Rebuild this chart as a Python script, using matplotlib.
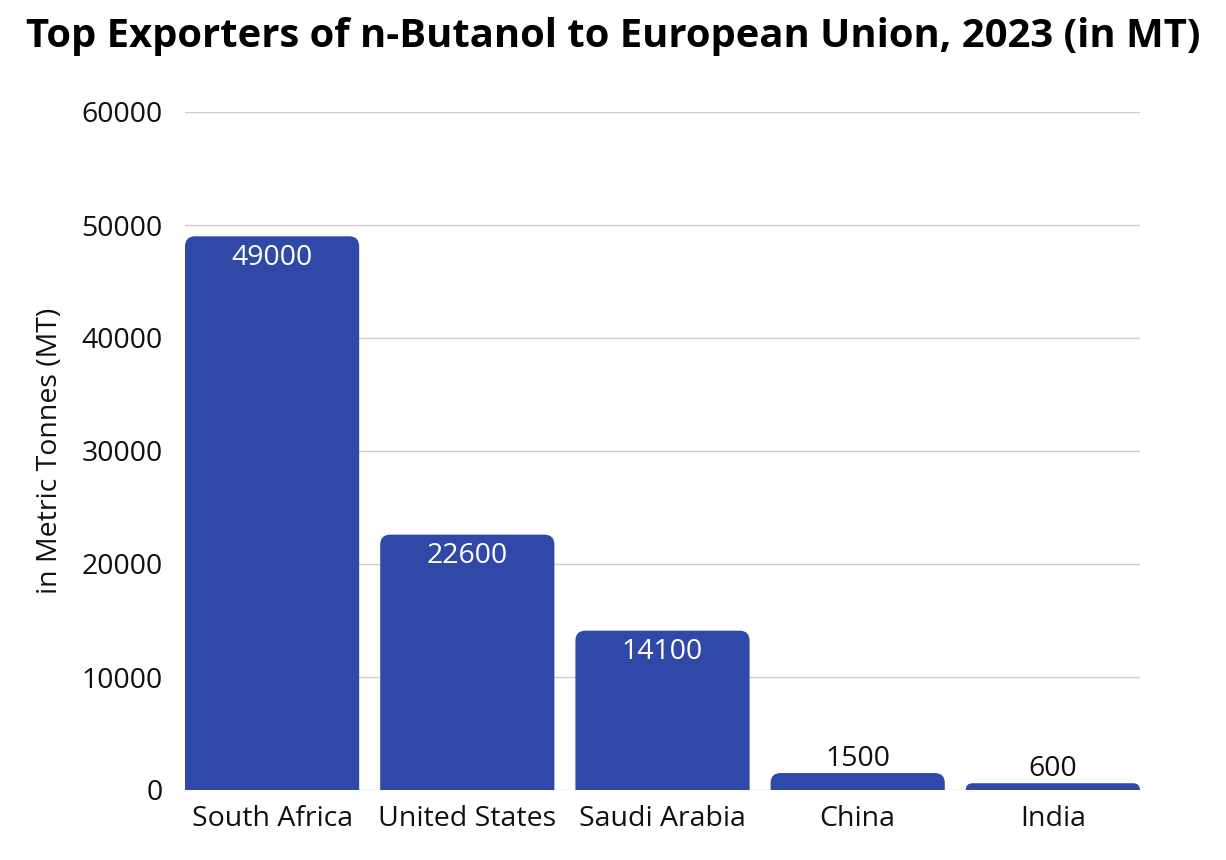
import matplotlib
matplotlib.use("Agg")
import matplotlib.pyplot as plt
from matplotlib.path import Path
from matplotlib.patches import PathPatch

countries = ["South Africa", "United States", "Saudi Arabia", "China", "India"]
values = [49000, 22600, 14100, 1500, 600]
yticks = [0, 10000, 20000, 30000, 40000, 50000, 60000]
title = "Top Exporters of n-Butanol to European Union, 2023 (in MT)"
ylabel = "in Metric Tonnes (MT)"

plt.rcParams['font.family'] = ['Open Sans', 'DejaVu Sans']
BAR = '#3048A8'
FS = 20.5

fig = plt.figure(figsize=(12.26, 8.6), dpi=100)
ax = fig.add_axes([185/1226, 70/860, 955/1226, 678/860])
width = 174/195
x = list(range(len(countries)))
bars = ax.bar(x, values, width=width, color=BAR)
ax.set_xlim(-width/2, len(countries) - 1 + width/2)
ax.set_ylim(0, 60000)
ax.set_yticks(yticks)
ax.set_yticklabels([str(t) for t in yticks])
ax.set_xticks(x)
ax.set_xticklabels(countries)
ax.tick_params(axis='both', length=0, labelsize=FS, colors='#111111')
ax.tick_params(axis='y', pad=16)
ax.tick_params(axis='x', pad=11)
for s in ax.spines.values():
    s.set_visible(False)
ax.yaxis.grid(True, color='#cccccc', lw=1)
ax.set_axisbelow(True)

# rounded top corners
fig.canvas.draw()
p0 = ax.transData.transform((0, 0))
p1 = ax.transData.transform((1, 1))
pxu_x = p1[0] - p0[0]
pxu_y = p1[1] - p0[1]
r = 10.0
for b in bars:
    b.set_visible(False)
    x0 = b.get_x(); x1 = x0 + b.get_width(); h = b.get_height()
    hpx = h * pxu_y
    rr = min(r, hpx)
    rx = rr / pxu_x
    ry = rr / pxu_y
    verts = [(x0, 0), (x0, h - ry), (x0, h), (x0 + rx, h), (x1 - rx, h),
             (x1, h), (x1, h - ry), (x1, 0), (x0, 0)]
    codes = [Path.MOVETO, Path.LINETO, Path.CURVE3, Path.CURVE3, Path.LINETO,
             Path.CURVE3, Path.CURVE3, Path.LINETO, Path.CLOSEPOLY]
    ax.add_patch(PathPatch(Path(verts, codes), facecolor=BAR, edgecolor='none', zorder=2))

for xi, v in zip(x, values):
    if v > 5000:
        ax.annotate(str(v), (xi, v), xytext=(0, -13), textcoords='offset points',
                    ha='center', va='center_baseline', color='white', fontsize=FS)
    else:
        ax.annotate(str(v), (xi, v), xytext=(0, 12.5), textcoords='offset points',
                    ha='center', va='center_baseline', color='#111111', fontsize=FS)

ax.set_ylabel(ylabel, fontsize=FS, color='#111111')
ax.yaxis.set_label_coords((64 - 185) / 955, 0.5)

fig.text(0.5, 1 - 37/860, title, ha='center', va='center', fontsize=28.8,
         fontweight='bold', color='#000000')

fig.savefig("out.png", dpi=100)
